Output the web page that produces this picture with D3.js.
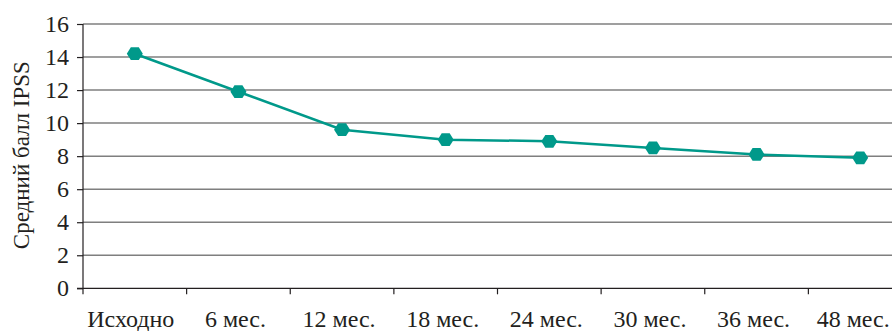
<!DOCTYPE html>
<html>
<head>
<meta charset="utf-8">
<script src="https://cdn.jsdelivr.net/npm/d3@7/dist/d3.min.js"></script>
<style>
  html, body { margin: 0; padding: 0; background: #fff; }
  svg { display: block; overflow: hidden; }
  svg text { font-family: "Liberation Serif", "DejaVu Serif", serif; fill: #231f20; }
</style>
</head>
<body>
<svg id="chart" width="892" height="331"></svg>
<script>
// Mean IPSS score over follow-up
const categories = ["Исходно", "6 мес.", "12 мес.", "18 мес.", "24 мес.", "30 мес.", "36 мес.", "48 мес."];
const ipssMean = [14.2, 11.9, 9.6, 9.0, 8.9, 8.5, 8.1, 7.9];
const yTicks = [0, 2, 4, 6, 8, 10, 12, 14, 16];
const yTitle = "Средний балл IPSS";

(function draw() {
  const svg = d3.select("#chart");
  const plotLeft = 83, plotTop = 24, plotBottom = 288.3;
  const plotRight = 912; // plot area runs past the visible edge
  const fontSize = 24;

  const x = d3.scaleBand().domain(categories).range([plotLeft, plotRight]);
  const y = d3.scaleLinear().domain([0, 16]).range([plotBottom, plotTop]);

  // horizontal gridlines
  svg.append("g")
    .selectAll("line")
    .data(yTicks.filter(d => d > 0))
    .join("line")
    .attr("x1", plotLeft).attr("x2", plotRight)
    .attr("y1", d => y(d)).attr("y2", d => y(d))
    .attr("stroke", "#7f7f7f")
    .attr("stroke-width", 1.5);

  // y axis
  const yAxis = svg.append("g")
    .attr("transform", `translate(${plotLeft},0)`)
    .call(d3.axisLeft(y).tickValues(yTicks).tickSize(6).tickPadding(8).tickFormat(d3.format("d")));
  yAxis.attr("font-family", null).attr("font-size", null);
  yAxis.select(".domain").attr("stroke", "#231f20").attr("stroke-width", 1.2)
    .attr("d", `M0,${plotTop}V${plotBottom + 6}`);
  yAxis.selectAll(".tick line").attr("stroke", "#231f20").attr("stroke-width", 1.2);
  yAxis.selectAll(".tick text").attr("font-size", fontSize).attr("fill", "#231f20");

  // x axis: ticks on band boundaries, labels in band centres
  const xAxis = svg.append("g").attr("transform", `translate(0,${plotBottom})`);
  xAxis.append("line")
    .attr("x1", plotLeft - 6).attr("x2", plotRight)
    .attr("stroke", "#231f20").attr("stroke-width", 1.2);
  xAxis.selectAll("line.tk")
    .data(categories.slice(1))
    .join("line")
    .attr("class", "tk")
    .attr("x1", d => x(d)).attr("x2", d => x(d))
    .attr("y1", 0).attr("y2", 6)
    .attr("stroke", "#231f20").attr("stroke-width", 1.2);
  xAxis.selectAll("text")
    .data(categories)
    .join("text")
    .attr("x", (d, i) => x(d) + x.bandwidth() / 2 - (i === 0 ? 4 : i === categories.length - 1 ? 7 : 3))
    .attr("y", 39)
    .attr("text-anchor", "middle")
    .attr("font-size", fontSize)
    .text(d => d);

  // y title
  svg.append("text")
    .attr("transform", `translate(29,${(plotTop + plotBottom) / 2 - 1}) rotate(-90)`)
    .attr("text-anchor", "middle")
    .attr("font-size", 23)
    .text(yTitle);

  // series line
  const cx = (d, i) => x(categories[i]) + x.bandwidth() / 2;
  svg.append("path")
    .datum(ipssMean)
    .attr("fill", "none")
    .attr("stroke", "#00998a")
    .attr("stroke-width", 2.5)
    .attr("d", d3.line().x(cx).y(d => y(d)));

  // hexagon markers (pointed left/right)
  const hex = (r) => {
    const pts = d3.range(6).map(k => {
      const a = Math.PI / 3 * k;
      return [r * Math.cos(a), r * 0.92 * Math.sin(a)];
    });
    return "M" + pts.map(p => p.join(",")).join("L") + "Z";
  };
  svg.append("g")
    .selectAll("path")
    .data(ipssMean)
    .join("path")
    .attr("transform", (d, i) => `translate(${cx(d, i)},${y(d)})`)
    .attr("d", hex(8))
    .attr("fill", "#00998a");
})();
</script>
</body>
</html>
